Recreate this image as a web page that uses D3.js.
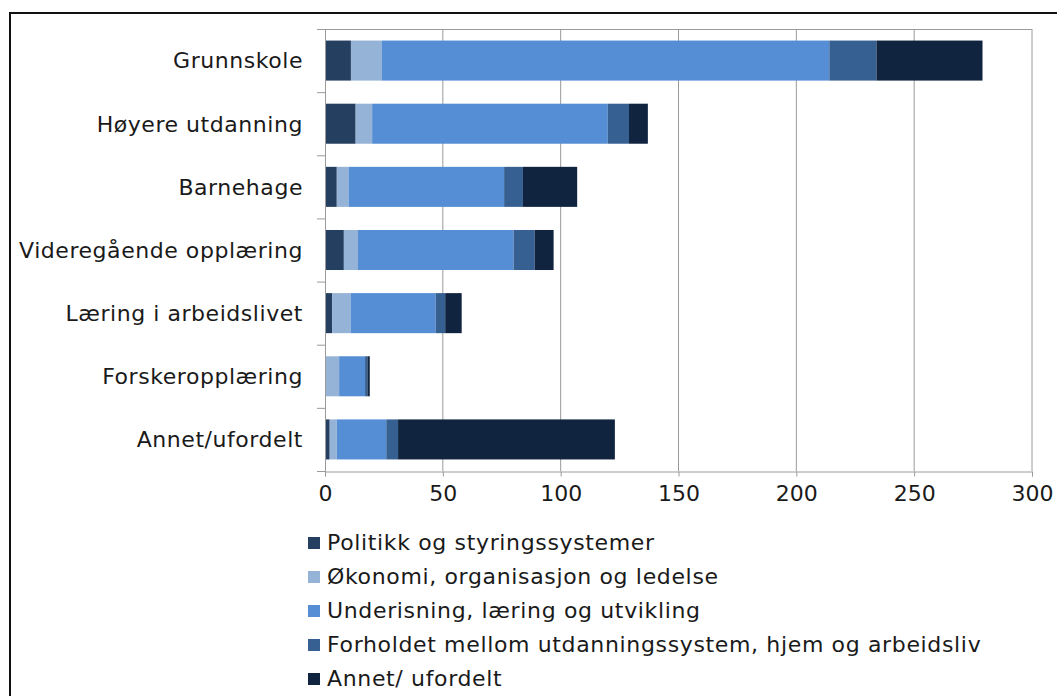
<!DOCTYPE html>
<html>
<head>
<meta charset="utf-8">
<script src="https://cdn.jsdelivr.net/npm/d3@7"></script>
<style>
  body { margin: 0; background: #fff; }
  svg { display: block; }
  text { font-family: "DejaVu Sans", Verdana, sans-serif; fill: #1a1a1a; }
</style>
</head>
<body>
<div id="chart"></div>
<script>
const categories = ["Grunnskole", "Høyere utdanning", "Barnehage", "Videregående opplæring",
  "Læring i arbeidslivet", "Forskeropplæring", "Annet/ufordelt"];
const seriesNames = ["Politikk og styringssystemer", "Økonomi, organisasjon og ledelse",
  "Underisning, læring og utvikling", "Forholdet mellom utdanningssystem, hjem og arbeidsliv",
  "Annet/ ufordelt"];
const politikk  = [11, 13, 5, 8, 3, 0, 2];
const okonomi   = [13, 7, 5, 6, 8, 6, 3];
const undervisn = [190, 100, 66, 66, 36, 11, 21];
const forholdet = [20, 9, 8, 9, 4, 1, 5];
const annet     = [45, 8, 23, 8, 7, 1, 92];
const xTicks = [0, 50, 100, 150, 200, 250, 300];
const colors = ["#243f60", "#95b3d7", "#558ed5", "#376092", "#10243f"];

function init() {
    const w = 1057, h = 696;
    const left = 325, right = 1032, top = 29, bottom = 471;

    const svg = d3.select("#chart").append("svg")
        .attr("width", w)
        .attr("height", h);

    // outer frame (runs off the right and bottom edges)
    svg.append("rect")
        .attr("x", 10).attr("y", 13)
        .attr("width", 1200).attr("height", 900)
        .attr("fill", "none")
        .attr("stroke", "#111")
        .attr("stroke-width", 2);

    const x = d3.scaleLinear().domain([0, 300]).range([left, right]);
    const y = d3.scaleBand().domain(categories).range([top, bottom])
        .paddingInner(0.366).paddingOuter(0.183);

    // grid lines
    svg.append("g")
        .selectAll("line")
        .data(xTicks.slice(1))
        .enter().append("line")
        .attr("x1", d => x(d)).attr("x2", d => x(d))
        .attr("y1", top).attr("y2", bottom)
        .attr("stroke", "#9a9a9a")
        .attr("stroke-width", 1);

    // top border of plot area
    svg.append("line")
        .attr("x1", left).attr("x2", right)
        .attr("y1", top + 0.5).attr("y2", top + 0.5)
        .attr("stroke", "#9a9a9a");

    const rows = categories.map((c, i) => ({
        cat: c,
        s0: politikk[i], s1: okonomi[i], s2: undervisn[i], s3: forholdet[i], s4: annet[i]
    }));
    const stack = d3.stack().keys(["s0", "s1", "s2", "s3", "s4"]);
    const layers = stack(rows);

    svg.append("g")
        .selectAll("g")
        .data(layers)
        .enter().append("g")
        .attr("fill", (d, i) => colors[i])
        .selectAll("rect")
        .data(d => d)
        .enter().append("rect")
        .attr("x", d => x(d[0]))
        .attr("width", d => x(d[1]) - x(d[0]))
        .attr("y", d => y(d.data.cat))
        .attr("height", y.bandwidth());

    // x axis
    const xAxis = d3.axisBottom(x).tickValues(xTicks).tickSize(5).tickPadding(9);
    const gx = svg.append("g")
        .attr("transform", "translate(0," + (bottom + 0.5) + ")")
        .call(xAxis);
    gx.select(".domain").attr("stroke", "#9a9a9a");
    gx.selectAll(".tick line").attr("stroke", "#9a9a9a");
    gx.selectAll(".tick text").style("font-size", "22px").attr("fill", "#1a1a1a");

    // y axis line + ticks at band boundaries
    svg.append("line")
        .attr("x1", left + 0.5).attr("x2", left + 0.5)
        .attr("y1", top).attr("y2", bottom + 5)
        .attr("stroke", "#9a9a9a");
    const step = y.step();
    svg.append("g")
        .selectAll("line")
        .data(d3.range(categories.length + 1))
        .enter().append("line")
        .attr("x1", left - 8).attr("x2", left)
        .attr("y1", i => top + i * step + 0.5)
        .attr("y2", i => top + i * step + 0.5)
        .attr("stroke", "#9a9a9a");

    svg.append("g")
        .selectAll("text")
        .data(categories)
        .enter().append("text")
        .attr("x", 303)
        .attr("y", d => y(d) + y.bandwidth() / 2)
        .attr("dy", "0.36em")
        .attr("text-anchor", "end")
        .style("font-size", "22px")
        .style("letter-spacing", "0.55px")
        .text(d => d);

    // legend
    const legend = svg.append("g")
        .selectAll("g")
        .data(seriesNames)
        .enter().append("g")
        .attr("transform", (d, i) => "translate(308," + (537 + i * 34) + ")");
    legend.append("rect")
        .attr("width", 12).attr("height", 12)
        .attr("fill", (d, i) => colors[i]);
    legend.append("text")
        .attr("x", 19)
        .attr("y", 13)
        .style("font-size", "22px")
        .style("letter-spacing", "0.65px")
        .text(d => d);
}

window.addEventListener("load", init);
</script>
</body>
</html>
